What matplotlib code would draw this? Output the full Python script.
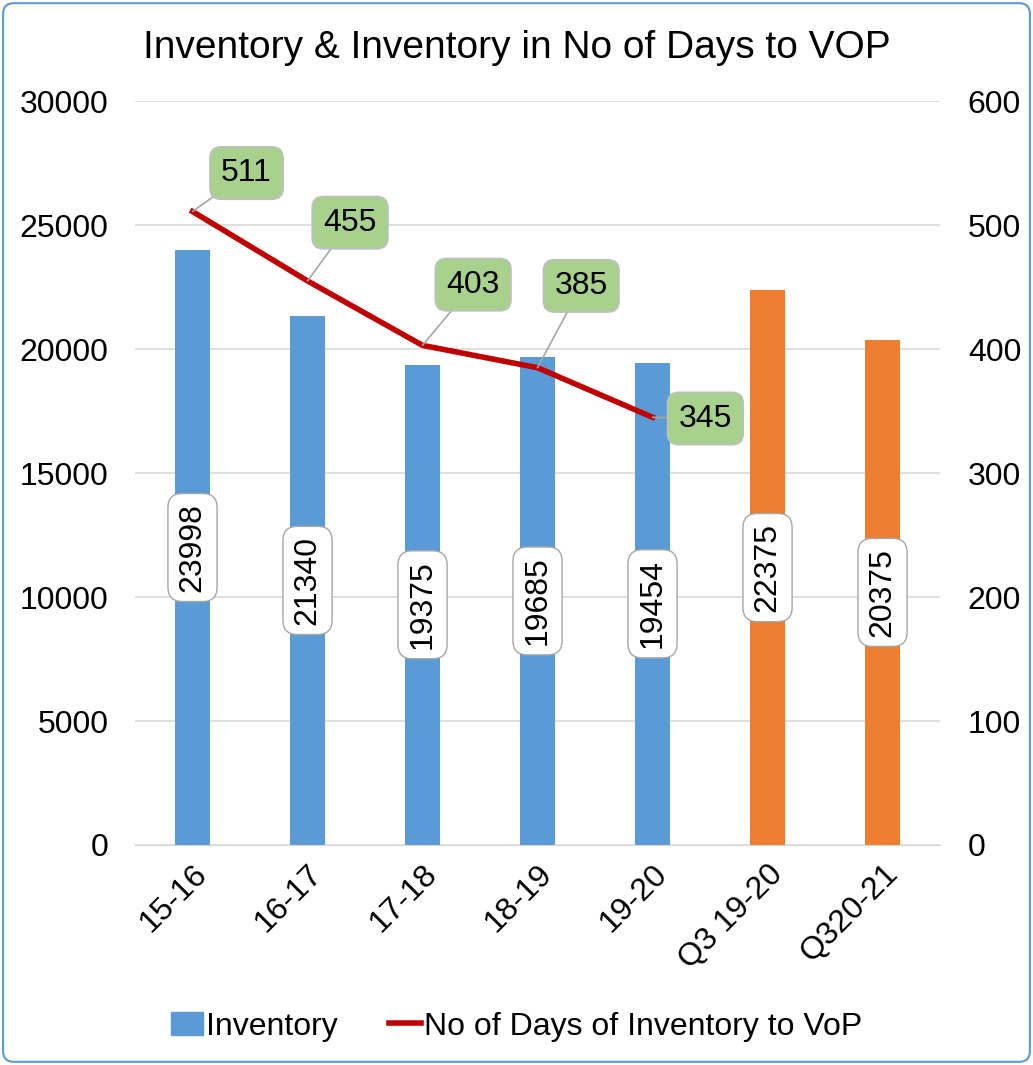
import matplotlib.pyplot as plt
from matplotlib.patches import Patch, FancyBboxPatch
from matplotlib.lines import Line2D

plt.rcParams['font.family'] = ['Liberation Sans', 'DejaVu Sans']

# Data
CATEGORIES = ["15-16", "16-17", "17-18", "18-19", "19-20", "Q3 19-20", "Q320-21"]
INVENTORY = [23998, 21340, 19375, 19685, 19454, 22375, 20375]
DAYS = [511, 455, 403, 385, 345]

BLUE = "#5B9BD5"
ORANGE = "#ED7D31"
RED = "#C00000"
GREEN = "#A9D18E"
BAR_COLORS = [BLUE] * 5 + [ORANGE] * 2
# label box centres (x, y on right axis)
DAY_LABEL_POS = [(0.47, 542), (1.37, 502), (2.44, 452), (3.38, 451), (4.46, 344)]

FS = 23

fig = plt.figure(figsize=(10.33, 10.65), dpi=100)
ax = fig.add_axes([0.1307, 0.2066, 0.7793, 0.6984])
ax2 = ax.twinx()

x = list(range(len(CATEGORIES)))
ax.bar(x, INVENTORY, width=0.31, color=BAR_COLORS, zorder=2)
ax.set_xlim(-0.5, len(CATEGORIES) - 0.5)
ax.set_ylim(0, 30000)
ax.set_yticks(range(0, 30001, 5000))
ax.yaxis.grid(True, color="#D9D9D9", linewidth=1.2, zorder=0)
ax.set_axisbelow(True)
ax.set_xticks(x)
ax.set_xticklabels(CATEGORIES, rotation=45, ha="right", rotation_mode="anchor", fontsize=FS)
ax.tick_params(axis="y", labelsize=FS, length=0, pad=19)
ax.tick_params(axis="x", length=0, pad=10)
for s in ["top", "left", "right"]:
    ax.spines[s].set_visible(False)
    ax2.spines[s].set_visible(False)
ax.spines["bottom"].set_color("#D9D9D9")
ax2.spines["bottom"].set_visible(False)

for xi, v in zip(x, INVENTORY):
    ax.text(xi, v / 2, str(v), rotation=90, ha="center", va="center", fontsize=FS,
            bbox=dict(boxstyle="round,pad=0.3,rounding_size=0.45", fc="white", ec="#A6A6A6", lw=1),
            zorder=4)

ax2.set_ylim(0, 600)
ax2.set_yticks(range(0, 601, 100))
ax2.tick_params(axis="y", labelsize=FS, length=0, pad=20)
ax2.plot(x[:len(DAYS)], DAYS, color=RED, linewidth=4, zorder=3)

for xi, (v, pos) in enumerate(zip(DAYS, DAY_LABEL_POS)):
    ax2.annotate(str(v), xy=(xi, v), xytext=pos, ha="center", va="center", fontsize=FS,
                 bbox=dict(boxstyle="round,pad=0.35,rounding_size=0.35", fc=GREEN, ec="#BFBFBF", lw=1.2),
                 arrowprops=dict(arrowstyle="-", color="#A6A6A6", lw=1.2, shrinkA=0, shrinkB=0),
                 zorder=5)

fig.text(0.5, 0.955, "Inventory & Inventory in No of Days to VOP", ha="center", va="center",
         fontsize=28)

handles = [Patch(color=BLUE, label="Inventory"),
           Line2D([0], [0], color=RED, lw=4, label="No of Days of Inventory to VoP")]
fig.legend(handles=handles, loc="center", bbox_to_anchor=(0.5, 0.036), ncol=2, frameon=False,
           fontsize=FS, handlelength=1.0, handleheight=0.7, handletextpad=0.1, columnspacing=1.6)

border = FancyBboxPatch((0.003, 0.003), 0.994, 0.994, boxstyle="round,pad=0,rounding_size=0.01",
                        transform=fig.transFigure, fill=False, ec=BLUE, lw=1.5)
fig.patches.append(border)

fig.savefig("out.png", dpi=100)
